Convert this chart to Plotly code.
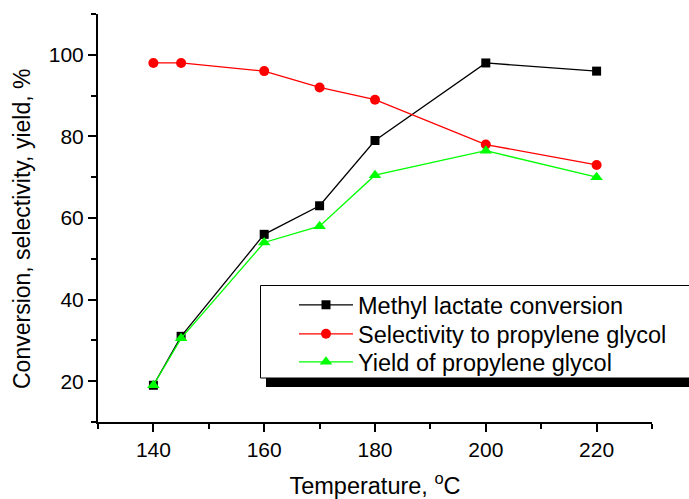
import plotly.graph_objects as go

temperature = [140, 145, 160, 170, 180, 200, 220]
conversion = [19, 31, 56, 63, 79, 98, 96]
selectivity = [98, 98, 96, 92, 89, 78, 73]
yield_pg = [19, 30.5, 54, 58, 70.5, 76.5, 70]
series_names = ["Methyl lactate conversion",
                "Selectivity to propylene glycol",
                "Yield of propylene glycol"]
x_ticks = [140, 160, 180, 200, 220]
y_ticks = [20, 40, 60, 80, 100]
x_title = "Temperature, <sup>o</sup>C"
y_title = "Conversion, selectivity, yield, %"

FONT = "Arial, Liberation Sans, sans-serif"

fig = go.Figure()
fig.add_trace(go.Scatter(
    x=temperature, y=conversion, mode="lines+markers", name=series_names[0],
    line=dict(color="black", width=1.3),
    marker=dict(symbol="square", size=9, color="black"), legend="legend"))
fig.add_trace(go.Scatter(
    x=temperature, y=selectivity, mode="lines+markers", name=series_names[1],
    line=dict(color="#ff0000", width=1.3),
    marker=dict(symbol="circle", size=10, color="#ff0000"), legend="legend2"))
fig.add_trace(go.Scatter(
    x=temperature, y=yield_pg, mode="lines+markers", name=series_names[2],
    line=dict(color="#00ff00", width=1.3),
    marker=dict(symbol="triangle-up", size=11, color="#00ff00"), legend="legend3"))

W, H = 689, 499
L, R, T, B = 98, 37, 14, 77
pw, ph = W - L - R, H - T - B


def px_x(px):
    return (px - L) / pw


def px_y(py):
    return (H - B - py) / ph


axis_common = dict(
    showline=True, linecolor="black", linewidth=2,
    ticks="outside", ticklen=8, tickwidth=2, tickcolor="black",
    showgrid=False, zeroline=False, mirror=False,
    tickfont=dict(family=FONT, size=21, color="black"),
)

fig.update_xaxes(
    range=[130, 230], tickvals=x_ticks,
    minor=dict(ticks="outside", ticklen=5, tickwidth=2, tickcolor="black",
               dtick=10, tick0=130, showgrid=False),
    title=dict(text=x_title,
               font=dict(family=FONT, size=23.5, color="black"), standoff=20),
    **axis_common)
fig.update_yaxes(
    range=[10, 110], tickvals=y_ticks,
    minor=dict(ticks="outside", ticklen=5, tickwidth=2, tickcolor="black",
               dtick=10, tick0=10, showgrid=False),
    **axis_common)


def legend_at(row_center_px):
    return dict(
        x=px_x(294), y=px_y(row_center_px), xanchor="left", yanchor="middle",
        bgcolor="rgba(0,0,0,0)", borderwidth=0,
        font=dict(family=FONT, size=23.5, color="black"),
        itemwidth=54,
    )


fig.update_layout(
    width=W, height=H,
    margin=dict(l=L, r=R, t=T, b=B, autoexpand=False),
    paper_bgcolor="white", plot_bgcolor="white",
    font=dict(family=FONT, size=21, color="black"),
    showlegend=True,
    legend=legend_at(305),
    legend2=legend_at(334),
    legend3=legend_at(362),
    annotations=[
        dict(text=y_title, xref="paper", yref="paper",
             x=px_x(22), y=px_y(229), xanchor="center", yanchor="middle",
             textangle=-90, showarrow=False,
             font=dict(family=FONT, size=23, color="black")),
    ],
    shapes=[
        dict(type="rect", xref="paper", yref="paper",
             x0=px_x(266), x1=px_x(720), y0=px_y(387), y1=px_y(378),
             fillcolor="black", line=dict(width=0), layer="above"),
        dict(type="rect", xref="paper", yref="paper",
             x0=px_x(260.5), x1=px_x(720), y0=px_y(378), y1=px_y(285.5),
             fillcolor="rgba(0,0,0,0)", line=dict(color="black", width=1),
             layer="above"),
    ],
)

fig.write_html("out.html", config={"displayModeBar": False},
               post_script="document.body.style.margin='0px';")
